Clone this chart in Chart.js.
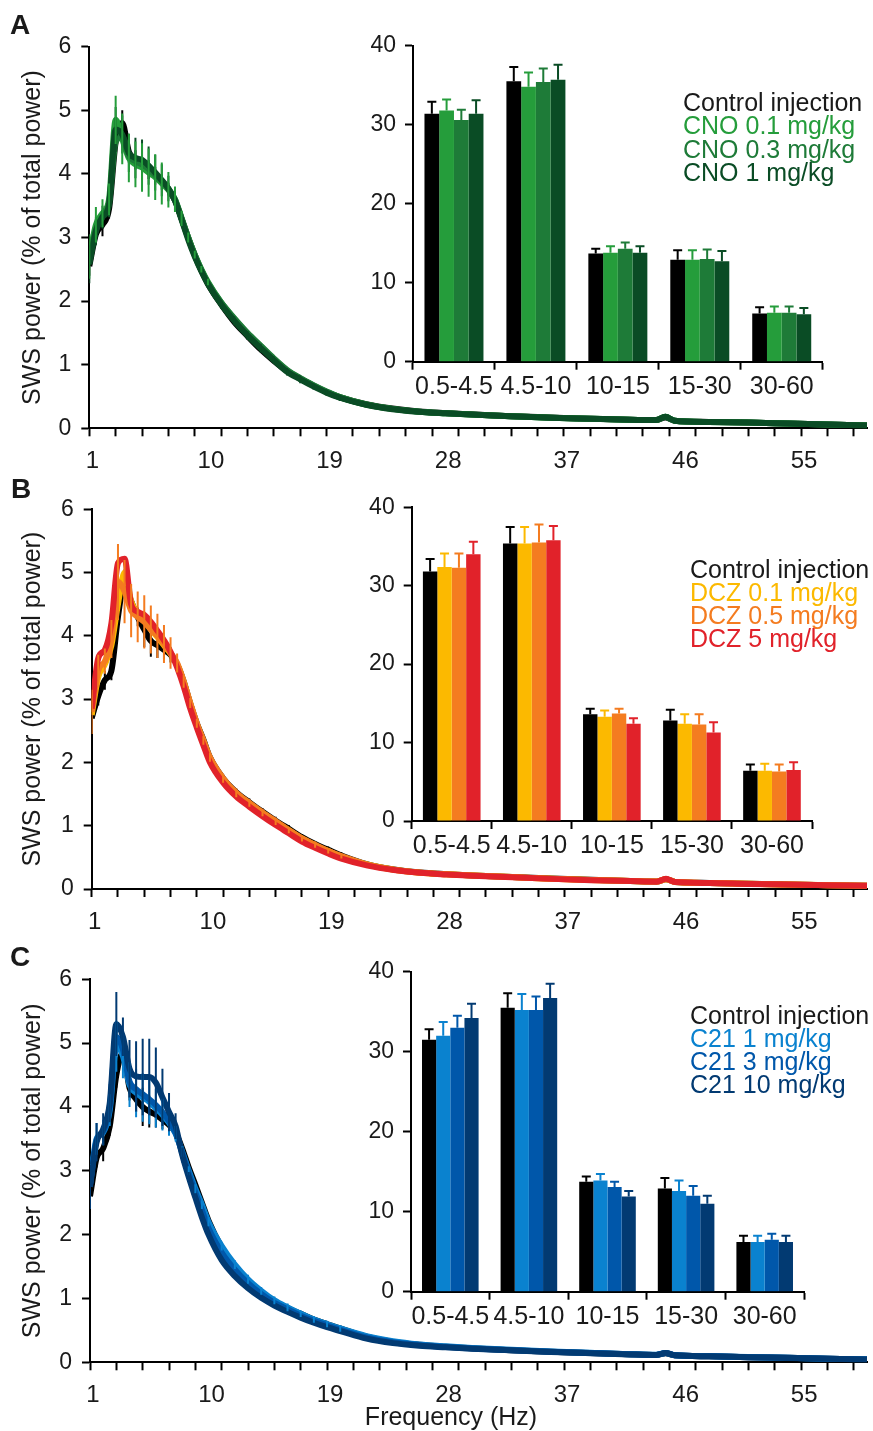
<!DOCTYPE html>
<html>
<head>
<meta charset="utf-8">
<script src="https://cdn.jsdelivr.net/npm/chart.js@4.4.1/dist/chart.umd.min.js"></script>
<style>
  html, body { margin: 0; padding: 0; background: #fff; }
  #fig { position: relative; width: 873px; height: 1431px; overflow: hidden; background: #fff; }
  #fig canvas { position: absolute; }
  .panel-letter { position: absolute; font: bold 28px "Liberation Sans", Arial, sans-serif; line-height: 28px; color: #1a1a1a; }
</style>
</head>
<body>
<div id="fig">
  <canvas id="lineA"></canvas>
  <canvas id="barA"></canvas>
  <canvas id="lineB"></canvas>
  <canvas id="barB"></canvas>
  <canvas id="lineC"></canvas>
  <canvas id="barC"></canvas>
  <div class="panel-letter" style="left:10px;top:11px">A</div>
  <div class="panel-letter" style="left:11px;top:475px">B</div>
  <div class="panel-letter" style="left:10px;top:943px">C</div>
</div>
<script>
// ---------- shared axes ----------
const freqHz = [1, 1.5, 2, 2.5, 3, 3.5, 4, 4.5, 5, 5.5, 6, 6.5, 7, 7.5, 8, 8.5, 9, 9.5, 10,
  11, 12, 13, 14, 15, 16, 17, 18, 19, 20,
  22, 24, 26, 28, 30, 33, 36, 39, 42, 44, 44.7, 45.4, 48, 51, 54, 57, 60];
const bandLabels = ['0.5-4.5', '4.5-10', '10-15', '15-30', '30-60'];

// ---------- panel A: CNO ----------
const cnoNames = ['Control injection', 'CNO 0.1 mg/kg', 'CNO 0.3 mg/kg', 'CNO 1 mg/kg'];
const cnoControl = [2.55, 3.05, 3.2, 3.45, 4.5, 4.8, 4.35, 4.22, 4.15, 4.07, 3.97, 3.87, 3.76, 3.58, 3.3, 3.0, 2.72, 2.48, 2.27,
  1.95, 1.67, 1.45, 1.24, 1.06, 0.9, 0.78, 0.67, 0.57, 0.49,
  0.38, 0.31, 0.265, 0.24, 0.22, 0.19, 0.17, 0.15, 0.135, 0.13, 0.17, 0.12, 0.10, 0.09, 0.075, 0.06, 0.045];
const cno01 = [2.7, 3.2, 3.38, 3.6, 4.85, 4.55, 4.25, 4.15, 4.1, 4.02, 3.95, 3.85, 3.75, 3.6, 3.3, 3.0, 2.73, 2.5, 2.3,
  1.98, 1.72, 1.49, 1.29, 1.09, 0.91, 0.78, 0.67, 0.57, 0.49,
  0.375, 0.305, 0.26, 0.235, 0.215, 0.19, 0.165, 0.15, 0.135, 0.13, 0.18, 0.12, 0.10, 0.09, 0.075, 0.06, 0.045];
const cno03 = [2.62, 3.12, 3.33, 3.55, 4.5, 4.58, 4.28, 4.2, 4.15, 4.08, 3.98, 3.88, 3.77, 3.6, 3.3, 3.0, 2.73, 2.49, 2.29,
  1.98, 1.73, 1.5, 1.3, 1.1, 0.92, 0.79, 0.68, 0.58, 0.49,
  0.375, 0.305, 0.262, 0.237, 0.216, 0.19, 0.166, 0.15, 0.135, 0.13, 0.18, 0.12, 0.10, 0.09, 0.075, 0.06, 0.045];
const cno1 = [2.58, 3.1, 3.32, 3.52, 4.7, 4.62, 4.33, 4.25, 4.22, 4.13, 4.02, 3.9, 3.77, 3.58, 3.28, 2.97, 2.70, 2.47, 2.27,
  1.95, 1.69, 1.46, 1.26, 1.07, 0.89, 0.77, 0.66, 0.56, 0.48,
  0.37, 0.30, 0.26, 0.235, 0.215, 0.19, 0.165, 0.15, 0.135, 0.13, 0.18, 0.12, 0.10, 0.09, 0.075, 0.06, 0.045];
const cnoControlSem = [0.15, 0.15, 0.18, 0.15, 0.2, 0.2, 0.18, 0.15, 0.15, 0.15, 0.14, 0.12, 0.1, 0.08, 0.06, 0.05, 0.05, 0.04, 0.04];
const cno01Sem = [0.35, 0.28, 0.22, 0.25, 0.38, 0.4, 0.38, 0.36, 0.38, 0.38, 0.36, 0.33, 0.28, 0.2, 0.12, 0.08, 0.06, 0.05, 0.05];
const cno1Sem = [0.3, 0.22, 0.18, 0.2, 0.35, 0.3, 0.3, 0.32, 0.32, 0.3, 0.28, 0.25, 0.2, 0.15, 0.1, 0.07, 0.06, 0.06, 0.06,
  0.07, 0.07, 0.07, 0.07, 0.06, 0.06, 0.06, 0.05, 0.05, 0.05];
const cnoBandControl = [31.4, 35.5, 13.7, 12.9, 6.1];
const cnoBand01 = [31.8, 34.8, 13.8, 12.9, 6.2];
const cnoBand03 = [30.6, 35.4, 14.3, 13.0, 6.2];
const cnoBand1 = [31.4, 35.7, 13.8, 12.7, 6.0];
const cnoBandControlSem = [1.5, 1.8, 0.6, 1.2, 0.8];
const cnoBand01Sem = [1.4, 1.8, 0.8, 1.2, 0.8];
const cnoBand03Sem = [1.3, 1.7, 0.8, 1.2, 0.8];
const cnoBand1Sem = [1.7, 1.9, 0.8, 1.3, 0.8];

// ---------- panel B: DCZ ----------
const dczNames = ['Control injection', 'DCZ 0.1 mg/kg', 'DCZ 0.5 mg/kg', 'DCZ 5 mg/kg'];
const dczControl = [2.7, 3.05, 3.3, 3.45, 4.3, 4.85, 4.55, 4.3, 4.1, 3.92, 3.85, 3.78, 3.7, 3.55, 3.28, 2.93, 2.62, 2.36, 2.08,
  1.75, 1.53, 1.37, 1.22, 1.08, 0.95, 0.82, 0.71, 0.62, 0.53,
  0.39, 0.31, 0.26, 0.235, 0.215, 0.19, 0.165, 0.145, 0.128, 0.118, 0.155, 0.112, 0.096, 0.082, 0.07, 0.06, 0.05];
const dcz01 = [2.75, 3.35, 3.55, 3.85, 4.5, 5.0, 4.55, 4.35, 4.25, 4.1, 3.98, 3.85, 3.72, 3.55, 3.27, 2.92, 2.6, 2.33, 2.06,
  1.73, 1.51, 1.35, 1.2, 1.06, 0.93, 0.8, 0.69, 0.6, 0.51,
  0.385, 0.305, 0.258, 0.233, 0.213, 0.188, 0.163, 0.143, 0.127, 0.117, 0.155, 0.111, 0.095, 0.081, 0.07, 0.06, 0.05];
const dcz05 = [2.8, 3.45, 3.6, 3.95, 4.85, 4.7, 4.4, 4.3, 4.22, 4.1, 4.0, 3.87, 3.73, 3.57, 3.28, 2.94, 2.62, 2.35, 2.08,
  1.75, 1.52, 1.36, 1.21, 1.07, 0.93, 0.8, 0.7, 0.6, 0.52,
  0.385, 0.305, 0.258, 0.233, 0.213, 0.188, 0.163, 0.143, 0.127, 0.117, 0.155, 0.111, 0.095, 0.081, 0.07, 0.06, 0.05];
const dcz5 = [2.85, 3.65, 3.78, 4.2, 5.15, 5.22, 4.5, 4.38, 4.33, 4.22, 4.08, 3.93, 3.75, 3.5, 3.2, 2.85, 2.55, 2.27, 2.0,
  1.68, 1.46, 1.3, 1.15, 1.01, 0.88, 0.75, 0.65, 0.56, 0.48,
  0.37, 0.30, 0.255, 0.23, 0.21, 0.185, 0.16, 0.14, 0.125, 0.115, 0.16, 0.11, 0.095, 0.08, 0.07, 0.06, 0.05];
const dczControlSem = [0.2, 0.15, 0.15, 0.15, 0.2, 0.2, 0.2, 0.15, 0.28, 0.25, 0.2, 0.15, 0.12, 0.08, 0.06, 0.05, 0.05, 0.05, 0.05,
  0.06, 0.06, 0.06, 0.06, 0.06, 0.06, 0.05, 0.05, 0.05, 0.05];
const dcz05Sem = [0.35, 0.25, 0.2, 0.3, 0.6, 0.5, 0.42, 0.4, 0.42, 0.38, 0.35, 0.3, 0.25, 0.15, 0.1, 0.08, 0.07, 0.07, 0.07,
  0.07, 0.07, 0.06, 0.06, 0.06, 0.05, 0.05, 0.05, 0.04, 0.04];
const dczBandControl = [31.8, 35.4, 13.6, 12.8, 6.4];
const dczBand01 = [32.4, 35.4, 13.3, 12.4, 6.4];
const dczBand05 = [32.3, 35.5, 13.7, 12.3, 6.3];
const dczBand5 = [34.0, 35.8, 12.4, 11.3, 6.5];
const dczBandControlSem = [1.6, 2.1, 0.7, 1.4, 0.8];
const dczBand01Sem = [1.7, 2.1, 0.8, 1.2, 0.9];
const dczBand05Sem = [1.8, 2.3, 0.6, 1.3, 0.9];
const dczBand5Sem = [1.6, 1.8, 0.7, 1.3, 1.0];

// ---------- panel C: C21 ----------
const c21Names = ['Control injection', 'C21 1 mg/kg', 'C21 3 mg/kg', 'C21 10 mg/kg'];
const c21Control = [2.6, 3.2, 3.35, 3.7, 4.5, 4.85, 4.3, 4.12, 4.0, 3.93, 3.88, 3.8, 3.72, 3.6, 3.35, 3.05, 2.78, 2.5, 2.22,
  1.8, 1.5, 1.28, 1.1, 0.96, 0.85, 0.76, 0.67, 0.6, 0.53,
  0.4, 0.32, 0.275, 0.245, 0.22, 0.19, 0.165, 0.145, 0.125, 0.115, 0.14, 0.11, 0.095, 0.08, 0.07, 0.055, 0.045];
const c21Dose1 = [2.8, 3.5, 3.6, 3.95, 4.95, 4.8, 4.35, 4.22, 4.15, 4.08, 3.98, 3.88, 3.75, 3.58, 3.3, 3.0, 2.72, 2.47, 2.2,
  1.82, 1.53, 1.3, 1.12, 0.97, 0.86, 0.76, 0.67, 0.6, 0.53,
  0.41, 0.33, 0.28, 0.25, 0.225, 0.195, 0.17, 0.148, 0.128, 0.118, 0.145, 0.112, 0.097, 0.082, 0.07, 0.056, 0.046];
const c21Dose3 = [2.78, 3.48, 3.62, 4.0, 5.1, 4.9, 4.4, 4.28, 4.2, 4.12, 4.03, 3.92, 3.78, 3.6, 3.28, 2.96, 2.66, 2.38, 2.1,
  1.72, 1.45, 1.24, 1.07, 0.93, 0.83, 0.73, 0.65, 0.58, 0.51,
  0.39, 0.315, 0.27, 0.24, 0.218, 0.19, 0.165, 0.145, 0.126, 0.116, 0.145, 0.11, 0.095, 0.08, 0.07, 0.055, 0.045];
const c21Dose10 = [2.75, 3.45, 3.65, 4.06, 5.3, 5.1, 4.6, 4.48, 4.47, 4.47, 4.38, 4.15, 3.92, 3.7, 3.25, 2.9, 2.58, 2.27, 2.0,
  1.6, 1.35, 1.16, 1.01, 0.89, 0.79, 0.7, 0.62, 0.55, 0.49,
  0.37, 0.30, 0.26, 0.235, 0.212, 0.188, 0.163, 0.143, 0.124, 0.115, 0.145, 0.11, 0.094, 0.08, 0.068, 0.055, 0.045];
const c21ControlSem = [0.2, 0.15, 0.2, 0.15, 0.2, 0.2, 0.2, 0.2, 0.3, 0.25, 0.2, 0.15, 0.12, 0.08, 0.06, 0.05, 0.05, 0.05, 0.05,
  0.05, 0.05, 0.05, 0.05, 0.05, 0.05, 0.04, 0.04, 0.04, 0.04];
const c21Dose1Sem = [0.3, 0.25, 0.2, 0.25, 0.4, 0.35, 0.35, 0.38, 0.38, 0.35, 0.3, 0.25, 0.2, 0.12, 0.08, 0.07, 0.07, 0.07, 0.07,
  0.07, 0.07, 0.07, 0.06, 0.06, 0.06, 0.05, 0.05, 0.05, 0.05];
const c21Dose10Sem = [0.35, 0.3, 0.25, 0.3, 0.5, 0.3, 0.45, 0.55, 0.6, 0.6, 0.55, 0.45, 0.3, 0.2, 0.12, 0.08, 0.06, 0.05, 0.05];
const c21BandControl = [31.5, 35.5, 13.75, 12.9, 6.2];
const c21Band1 = [32.0, 35.2, 13.9, 12.6, 6.2];
const c21Band3 = [33.0, 35.2, 13.1, 12.0, 6.5];
const c21Band10 = [34.2, 36.7, 11.9, 11.0, 6.2];
const c21BandControlSem = [1.3, 1.8, 0.65, 1.3, 0.8];
const c21Band1Sem = [1.7, 2.0, 0.8, 1.3, 0.8];
const c21Band3Sem = [1.5, 1.7, 0.65, 1.2, 0.75];
const c21Band10Sem = [1.8, 1.8, 0.7, 1.0, 0.8];

// ---------- styling ----------
const FONT = '"Liberation Sans", Arial, Helvetica, sans-serif';
const NARROW = '"Liberation Sans Narrow", "Arial Narrow", "Liberation Sans", Arial, sans-serif';
const INK = '#000000';
const TEXT = '#1a1a1a';
const greens = ['#000000', '#259d3b', '#1e7b38', '#0a4c25'];
const warms = ['#000000', '#fcb900', '#f47c20', '#e1222a'];
const blues = ['#000000', '#0a82cf', '#0057aa', '#023a72'];

// vertical SEM whiskers on the spectra
function spectrumSemPlugin(specs) {
  const draw = (chart, onTop) => {
    const { ctx, chartArea, scales: { x, y } } = chart;
    ctx.save();
    ctx.beginPath();
    ctx.rect(chartArea.left, chartArea.top - 4, chartArea.right - chartArea.left, chartArea.bottom - chartArea.top + 4);
    ctx.clip();
    specs.forEach(s => {
      if (!!s.onTop !== onTop) return;
      const ds = chart.data.datasets[s.dataset];
      ctx.strokeStyle = ds.borderColor;
      ctx.lineWidth = 2;
      s.sem.forEach((e, i) => {
        const p = ds.data[i];
        const px = x.getPixelForValue(p.x);
        ctx.beginPath();
        ctx.moveTo(px, y.getPixelForValue(p.y - e));
        ctx.lineTo(px, y.getPixelForValue(p.y + e));
        ctx.stroke();
      });
    });
    ctx.restore();
  };
  return {
    id: 'spectrumSem',
    beforeDatasetsDraw(chart) { draw(chart, false); },
    afterDatasetsDraw(chart) { draw(chart, true); }
  };
}

// upward SEM whiskers with caps on the band bars
function bandSemPlugin(semSets) {
  return {
    id: 'bandSem',
    afterDatasetsDraw(chart) {
      const { ctx, scales: { y } } = chart;
      ctx.save();
      chart.data.datasets.forEach((ds, di) => {
        const meta = chart.getDatasetMeta(di);
        ctx.strokeStyle = ds.backgroundColor;
        ctx.lineWidth = 2;
        meta.data.forEach((bar, i) => {
          const topPx = y.getPixelForValue(ds.data[i] + semSets[di][i]);
          ctx.beginPath();
          ctx.moveTo(bar.x, bar.y);
          ctx.lineTo(bar.x, topPx);
          ctx.moveTo(bar.x - 4.5, topPx);
          ctx.lineTo(bar.x + 4.5, topPx);
          ctx.stroke();
        });
      });
      ctx.restore();
    }
  };
}

// coloured dose legend beside the inset
function doseLegendPlugin(frame, spot, names, colors) {
  return {
    id: 'doseLegend',
    afterDraw(chart) {
      const ctx = chart.ctx;
      ctx.save();
      ctx.font = '25px ' + FONT;
      ctx.textAlign = 'left';
      ctx.textBaseline = 'alphabetic';
      names.forEach((n, k) => {
        ctx.fillStyle = k === 0 ? TEXT : colors[k];
        ctx.fillText(n, spot.x - frame.left, spot.y + k * spot.gap - frame.top);
      });
      ctx.restore();
    }
  };
}

function freeTextPlugin(frame, items) {
  return {
    id: 'freeText',
    afterDraw(chart) {
      const ctx = chart.ctx;
      ctx.save();
      items.forEach(t => {
        ctx.font = t.font;
        ctx.fillStyle = TEXT;
        ctx.textAlign = 'center';
        ctx.textBaseline = 'alphabetic';
        ctx.fillText(t.text, t.x - frame.left, t.y - frame.top);
      });
      ctx.restore();
    }
  };
}

function placeCanvas(id, frame) {
  const cv = document.getElementById(id);
  cv.width = frame.w;
  cv.height = frame.h;
  cv.style.left = frame.left + 'px';
  cv.style.top = frame.top + 'px';
  cv.style.width = frame.w + 'px';
  cv.style.height = frame.h + 'px';
  return cv;
}

function spectrumChart(id, frame, names, colors, series, semSpecs, extraPlugins) {
  const cv = placeCanvas(id, frame);
  const yw = frame.plotLeft - frame.left;
  const xh = frame.top + frame.h - frame.plotBottom;
  return new Chart(cv, {
    type: 'line',
    data: {
      datasets: series.map((vals, k) => ({
        label: names[k],
        data: freqHz.map((f, i) => ({ x: f, y: vals[i] })),
        borderColor: colors[k],
        backgroundColor: colors[k],
        borderWidth: 6,
        pointRadius: 0,
        cubicInterpolationMode: 'monotone',
        borderJoinStyle: 'round',
        order: series.length - k
      }))
    },
    options: {
      responsive: false,
      animation: false,
      events: [],
      layout: { padding: { top: frame.plotTop - frame.top, right: frame.left + frame.w - frame.plotRight, left: 0, bottom: 0 } },
      plugins: { legend: { display: false }, tooltip: { enabled: false } },
      scales: {
        x: {
          type: 'linear', min: 1, max: 60,
          border: { display: true, color: INK, width: 2 },
          grid: {
            drawOnChartArea: false, drawTicks: true, tickLength: 8, tickWidth: 2,
            tickColor: c => (c.tick && (c.tick.value - 1) % 2 === 0) ? INK : 'rgba(0,0,0,0)'
          },
          ticks: {
            stepSize: 1, autoSkip: false, maxRotation: 0, minRotation: 0, maxTicksLimit: 100,
            padding: 11, labelOffset: 3, color: TEXT, font: { family: NARROW, size: 24 },
            callback: v => ((v - 1) % 9 === 0 ? String(v) : '')
          },
          afterFit: s => { s.height = xh; }
        },
        y: {
          min: 0, max: 6,
          border: { display: true, color: INK, width: 2 },
          grid: { drawOnChartArea: false, drawTicks: true, tickLength: 8, tickWidth: 2, tickColor: INK },
          ticks: { stepSize: 1, padding: 10, color: TEXT, font: { family: FONT, size: 23 } },
          title: {
            display: true, text: 'SWS power (% of total power)', color: TEXT,
            font: { family: FONT, size: 25 }, padding: { top: 18, bottom: 0 }
          },
          afterFit: s => { s.width = yw; }
        }
      }
    },
    plugins: [spectrumSemPlugin(semSpecs)].concat(extraPlugins || [])
  });
}

function bandChart(id, frame, names, colors, bands, sems, legendSpot) {
  const cv = placeCanvas(id, frame);
  const yw = frame.plotLeft - frame.left;
  const xh = frame.top + frame.h - frame.plotBottom;
  return new Chart(cv, {
    type: 'bar',
    data: {
      labels: bandLabels,
      datasets: bands.map((vals, k) => ({
        label: names[k],
        data: vals,
        backgroundColor: colors[k],
        borderWidth: 0,
        categoryPercentage: 0.72,
        barPercentage: 1.0
      }))
    },
    options: {
      responsive: false,
      animation: false,
      events: [],
      layout: { padding: { top: frame.plotTop - frame.top, right: frame.left + frame.w - frame.plotRight, left: 0, bottom: 0 } },
      plugins: { legend: { display: false }, tooltip: { enabled: false } },
      scales: {
        x: {
          type: 'category', offset: true,
          border: { display: true, color: INK, width: 2 },
          grid: { offset: true, drawOnChartArea: false, drawTicks: true, tickLength: 8, tickWidth: 2, tickColor: INK },
          ticks: { padding: 2, autoSkip: false, maxRotation: 0, minRotation: 0, color: TEXT, font: { family: FONT, size: 25 } },
          afterFit: s => { s.height = xh; }
        },
        y: {
          min: 0, max: 40,
          border: { display: true, color: INK, width: 2 },
          grid: { drawOnChartArea: false, drawTicks: true, tickLength: 8, tickWidth: 2, tickColor: INK },
          ticks: { stepSize: 10, padding: 9, color: TEXT, font: { family: FONT, size: 23 } },
          afterFit: s => { s.width = yw; }
        }
      }
    },
    plugins: [bandSemPlugin(sems), doseLegendPlugin(frame, legendSpot, names, colors)]
  });
}

// ---------- panel A ----------
spectrumChart('lineA',
  { left: 0, top: 0, w: 880, h: 475, plotLeft: 89.3, plotTop: 46.7, plotRight: 867, plotBottom: 428.3 },
  cnoNames, greens, [cnoControl, cno01, cno03, cno1],
  [{ dataset: 0, sem: cnoControlSem, onTop: false },
   { dataset: 3, sem: cno1Sem, onTop: true },
   { dataset: 1, sem: cno01Sem, onTop: true }]);
bandChart('barA',
  { left: 330, top: 15, w: 543, h: 400, plotLeft: 413, plotTop: 45.7, plotRight: 822.7, plotBottom: 361.7 },
  cnoNames, greens, [cnoBandControl, cnoBand01, cnoBand03, cnoBand1],
  [cnoBandControlSem, cnoBand01Sem, cnoBand03Sem, cnoBand1Sem],
  { x: 683, y: 111, gap: 23.4 });

// ---------- panel B ----------
spectrumChart('lineB',
  { left: 0, top: 470, w: 880, h: 470, plotLeft: 91.7, plotTop: 509.3, plotRight: 867, plotBottom: 889 },
  dczNames, warms, [dczControl, dcz01, dcz05, dcz5],
  [{ dataset: 0, sem: dczControlSem, onTop: false },
   { dataset: 2, sem: dcz05Sem, onTop: true }]);
bandChart('barB',
  { left: 330, top: 480, w: 543, h: 400, plotLeft: 411.7, plotTop: 507.3, plotRight: 812, plotBottom: 821 },
  dczNames, warms, [dczBandControl, dczBand01, dczBand05, dczBand5],
  [dczBandControlSem, dczBand01Sem, dczBand05Sem, dczBand5Sem],
  { x: 690, y: 577.5, gap: 23.3 });

// ---------- panel C ----------
const frameC = { left: 0, top: 935, w: 880, h: 496, plotLeft: 90, plotTop: 979.3, plotRight: 867, plotBottom: 1362.3 };
spectrumChart('lineC', frameC,
  c21Names, blues, [c21Control, c21Dose1, c21Dose3, c21Dose10],
  [{ dataset: 0, sem: c21ControlSem, onTop: false },
   { dataset: 1, sem: c21Dose1Sem, onTop: true },
   { dataset: 3, sem: c21Dose10Sem, onTop: true }],
  [freeTextPlugin(frameC, [{ text: 'Frequency (Hz)', x: 451, y: 1425, font: '25px ' + FONT }])]);
bandChart('barC',
  { left: 330, top: 945, w: 543, h: 400, plotLeft: 411, plotTop: 971.7, plotRight: 804, plotBottom: 1291.7 },
  c21Names, blues, [c21BandControl, c21Band1, c21Band3, c21Band10],
  [c21BandControlSem, c21Band1Sem, c21Band3Sem, c21Band10Sem],
  { x: 690, y: 1023.5, gap: 23.3 });
</script>
</body>
</html>
